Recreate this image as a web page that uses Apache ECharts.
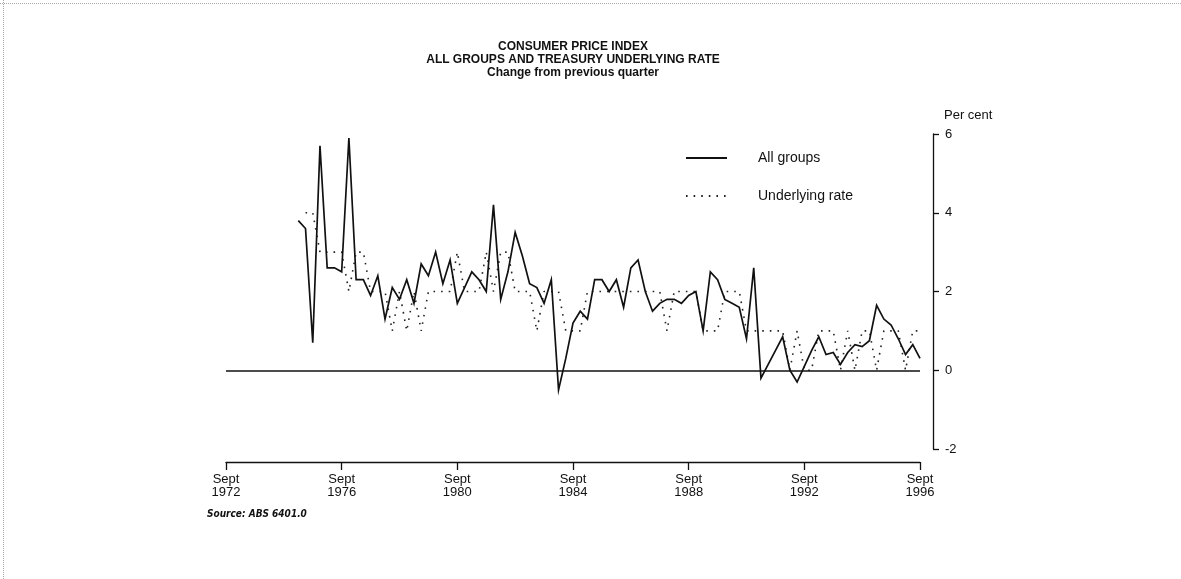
<!DOCTYPE html>
<html>
<head>
<meta charset="utf-8">
<script src="https://cdn.jsdelivr.net/npm/echarts@6/dist/echarts.min.js"></script>
<style>
  html,body{margin:0;padding:0;background:#fff;}
  .cpi_parent{position:relative;width:1181px;height:579px;}
  #cpi-line{width:1181px;height:579px;}
  /* scanned page edges */
  .edge_top{position:absolute;left:0;top:3px;width:1181px;border-top:1px dotted #aaa;}
  .edge_left{position:absolute;left:3px;top:0;height:579px;border-left:1px dotted #aaa;}
</style>
</head>
<body>
<div class="cpi_parent">
  <div id="cpi-line"></div>
  <div class="edge_top"></div>
  <div class="edge_left"></div>
</div>
<script>
  // quarters, Sept 1972 .. Sept 1996
  var quarterMonths = ['Sept', 'Dec', 'Mar', 'June'];
  var quarters = [];
  for (var q = 0; q <= 96; q++) {
    quarters.push(quarterMonths[q % 4] + ' ' + (1972 + Math.floor((q + 2) / 4)));
  }
  var tickEvery = 16; // every 4 years

  // All groups, % change from previous quarter, from Mar 1975
  var allGroupsStart = 'Mar 1975';
  var allGroups = [
    3.8, 3.6, 0.7, 5.7, 2.6, 2.6, 2.5, 5.9, 2.3, 2.3,
    1.9, 2.4, 1.3, 2.1, 1.8, 2.3, 1.7, 2.7, 2.4, 3.0,
    2.2, 2.8, 1.7, 2.1, 2.5, 2.3, 2.0, 4.2, 1.8, 2.5,
    3.5, 2.9, 2.2, 2.1, 1.7, 2.3, -0.5, 0.3, 1.2, 1.5,
    1.3, 2.3, 2.3, 2.0, 2.3, 1.6, 2.6, 2.8, 2.0, 1.5,
    1.7, 1.8, 1.8, 1.7, 1.9, 2.0, 1.0, 2.5, 2.3, 1.8,
    1.7, 1.6, 0.8, 2.6, -0.2, 0.15, 0.5, 0.85, 0.0, -0.3,
    0.1, 0.5, 0.85, 0.4, 0.45, 0.15, 0.45, 0.65, 0.6, 0.75,
    1.65, 1.3, 1.15, 0.8, 0.4, 0.65, 0.3
  ];

  // Treasury underlying rate, from June 1975
  var underlyingStart = 'June 1975';
  var underlying = [
    4, 4, 3, 3, 3, 3, 2, 3, 3,
    2, 2, 2, 1, 2, 1, 2, 1, 2, 2,
    2, 2, 3, 2, 2, 2, 3, 2, 3, 3,
    2, 2, 2, 1, 2, 2, 2, 1, 1, 1,
    2, 2, 2, 2, 2, 2, 2, 2, 2, 2,
    2, 1, 2, 2, 2, 2, 1, 1, 1, 2,
    2, 2, 1, 1, 1, 1, 1, 1, 0, 1,
    0, 0, 1, 1, 1, 0, 1, 0, 1, 1,
    0, 1, 1, 1, 0, 1, 1
  ];

  var yTicks = {min: -2, max: 6, step: 2};

  function padSeries(startLabel, values) {
    var pad = quarters.indexOf(startLabel);
    var out = [];
    for (var i = 0; i < pad; i++) out.push(null);
    return out.concat(values);
  }

  var fontFam = '"Liberation Sans", Arial, sans-serif';
  var cpiChart = echarts.init(document.getElementById('cpi-line'));

  var cpiOption = {
    animation: false,
    backgroundColor: '#fff',
    title: [
      {
        text: 'CONSUMER PRICE INDEX\nALL GROUPS AND TREASURY UNDERLYING RATE\nChange from previous quarter',
        left: 568,
        top: 35,
        textAlign: 'center',
        textStyle: {fontFamily: fontFam, fontSize: 12, fontWeight: 'bold', color: '#111', lineHeight: 13}
      },
      {
        text: 'Source: ABS 6401.0',
        left: 202,
        top: 504,
        textStyle: {fontFamily: '"DejaVu Sans Condensed", "Liberation Sans", Arial, sans-serif', fontSize: 10, fontStyle: 'italic', fontWeight: 'bold', color: '#111'}
      }
    ],
    legend: {
      orient: 'vertical',
      left: 680,
      top: 146,
      itemWidth: 41,
      itemHeight: 14,
      itemGap: 24,
      itemStyle: {opacity: 0},
      data: ['All groups', 'Underlying rate'],
      textStyle: {fontFamily: fontFam, fontSize: 14, color: '#111', padding: [0, 0, 0, 26]}
    },
    grid: {left: 226, right: 261, top: 134, bottom: 130},
    xAxis: {
      type: 'category',
      boundaryGap: false,
      data: quarters,
      offset: 13,
      axisLine: {onZero: false, lineStyle: {color: '#111', width: 1.3}},
      axisTick: {
        interval: function (i) { return i % tickEvery === 0; },
        length: 8,
        lineStyle: {color: '#111', width: 1.3}
      },
      axisLabel: {
        interval: function (i) { return i % tickEvery === 0; },
        margin: 11,
        fontFamily: fontFam,
        fontSize: 13,
        lineHeight: 13,
        color: '#111',
        formatter: function (v) { return v.replace(' ', '\n'); }
      },
      splitLine: {show: false}
    },
    yAxis: {
      type: 'value',
      position: 'right',
      min: yTicks.min,
      max: yTicks.max,
      interval: yTicks.step,
      offset: 13,
      name: 'Per cent',
      nameLocation: 'end',
      nameGap: 12,
      nameTextStyle: {fontFamily: fontFam, fontSize: 13, color: '#111', align: 'left', padding: [0, 0, 0, 11]},
      axisLine: {show: true, lineStyle: {color: '#111', width: 1.3}},
      axisTick: {show: true, length: 6, lineStyle: {color: '#111', width: 1.3}},
      axisLabel: {margin: 12, fontFamily: fontFam, fontSize: 13, color: '#111'},
      splitLine: {show: false}
    },
    series: [
      {
        name: 'All groups',
        type: 'line',
        symbol: 'none',
        data: padSeries(allGroupsStart, allGroups),
        lineStyle: {color: '#111', width: 1.7, join: 'miter'},
        itemStyle: {color: '#111'},
        markLine: {
          silent: true,
          symbol: 'none',
          label: {show: false},
          lineStyle: {color: '#111', width: 1.5, type: 'solid'},
          data: [{yAxis: 0}]
        },
        z: 3
      },
      {
        name: 'Underlying rate',
        type: 'line',
        symbol: 'none',
        data: padSeries(underlyingStart, underlying),
        lineStyle: {color: '#222', width: 1.6, type: [1.6, 6]},
        itemStyle: {color: '#222'},
        z: 2
      }
    ]
  };

  cpiOption && cpiChart.setOption(cpiOption);
</script>
</body>
</html>
